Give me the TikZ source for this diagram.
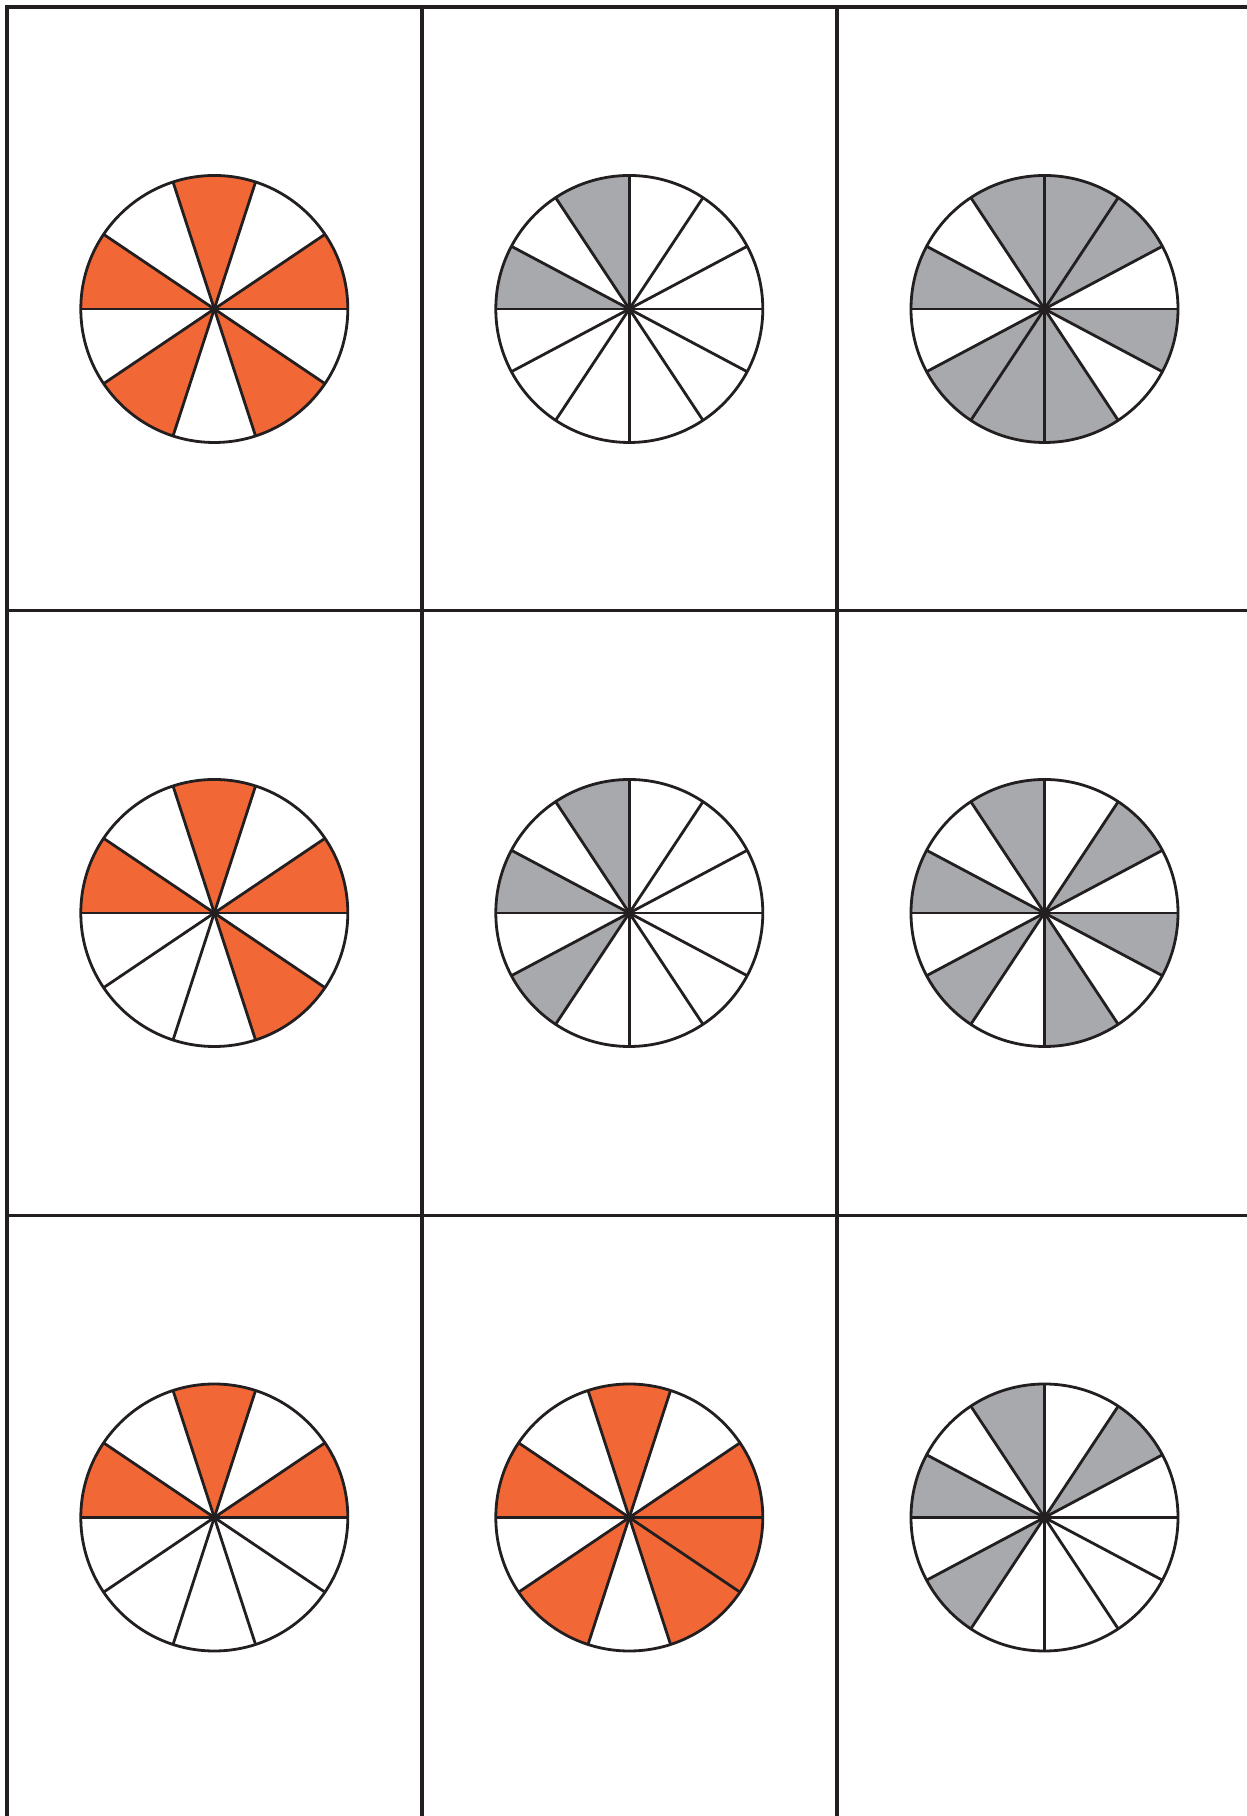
\documentclass[tikz,border=0pt]{standalone}
\usepackage{tikz}
\usepackage{xcolor}

\definecolor{ink}{RGB}{35,31,32}
\definecolor{pieorange}{RGB}{241,104,54}
\definecolor{piegrey}{RGB}{167,169,172}

\begin{document}
\begin{tikzpicture}[x=1pt,y=1pt,
  gridline/.style={line width=3.6pt,ink,line join=miter},
  pieline/.style={line width=2.8pt,ink}]
\useasboundingbox (0,0) rectangle (1247,1816);
% spoke angles of the two kinds of pie
\def\tenths{0,34,72,108,146,180,214,252,288,326}
\def\twelfths{0,28,56.5,90,123.5,152,180,208,236.5,270,303.5,332}
% grid
\draw[gridline] (7,0)--(7,1808.7)--(1247,1808.7);
\draw[gridline] (421.7,0)--(421.7,1808.7);
\draw[gridline] (837,0)--(837,1808.7);
\draw[gridline] (7,1205.3)--(1247,1205.3);
\draw[gridline] (7,600.3)--(1247,600.3);
% pies: centre x / centre y / spokes / colour / shaded wedges
\foreach \cx/\cy/\spokes/\col/\shaded in {
  214.3/1507/\tenths/pieorange/{0/34,72/108,146/180,214/252,288/326},
  629.3/1507/\twelfths/piegrey/{90/123.5,152/180},
  1044.5/1507/\twelfths/piegrey/{28/123.5,152/180,208/303.5,332/360},
  214.3/903/\tenths/pieorange/{0/34,72/108,146/180,288/326},
  629.3/903/\twelfths/piegrey/{90/123.5,152/180,208/236.5},
  1044.5/903/\twelfths/piegrey/{28/56.5,90/123.5,152/180,208/236.5,270/303.5,332/360},
  214.3/298.5/\tenths/pieorange/{0/34,72/108,146/180},
  629.3/298.5/\tenths/pieorange/{0/34,72/108,146/180,214/252,288/360},
  1044.5/298.5/\twelfths/piegrey/{28/56.5,90/123.5,152/180,208/236.5}}
{
  \edef\spokelist{\spokes}
  \foreach \from/\to in \shaded
    \fill[\col] (\cx,\cy) -- ++(\from:133.5)
      arc[start angle=\from, end angle=\to, radius=133.5] -- cycle;
  \foreach \a in \spokelist
    \draw[pieline] (\cx,\cy) -- ++(\a:133.5);
  \draw[pieline] (\cx,\cy) circle[radius=133.5];
}
\end{tikzpicture}
\end{document}
